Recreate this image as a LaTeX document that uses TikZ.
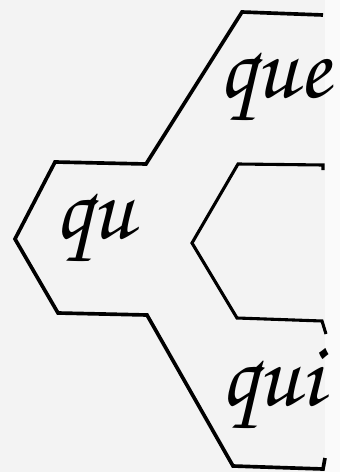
\documentclass[tikz,border=0pt]{standalone}
\usepackage[T1,TU]{fontenc}
\usepackage{tikz}
\usetikzlibrary{positioning}

\newcommand{\cursiva}{\usefont{T1}{pzc}{mb}{it}\fontsize{66}{66}\selectfont}
\definecolor{papel}{RGB}{243,243,243}
\definecolor{borde}{RGB}{250,250,250}

\begin{document}
\begin{tikzpicture}[x=0.025cm,y=-0.025cm,line join=miter,semithick]
  \tikzstyle{silaba}=[font=\cursiva,inner sep=0pt,anchor=base west,text=black]
  \tikzstyle{contorno}=[draw=black,line width=2.6pt]
\useasboundingbox (0,0) rectangle (340,472);
\fill[papel] (0,0) rectangle (325,472);
\fill[borde] (325,0) rectangle (340,472);
% outer piece
\draw[contorno] (323,15) -- (242,12) -- (146,164) -- (55,162) -- (15,239)
  -- (58,313) -- (147,315) -- (233,466) -- (323,469) -- (325,458);
% inner notch
\draw[contorno,line width=2.2pt] (323,170) -- (323,165) -- (238,164) -- (192,243)
  -- (237,318) -- (322,321) -- (326,334);
\node[silaba] (qu) at (54,238) {qu};
\node[silaba] (que) at (218,98) {que};
\node[silaba] (qui) at (220,405) {qui};
\end{tikzpicture}
\end{document}
